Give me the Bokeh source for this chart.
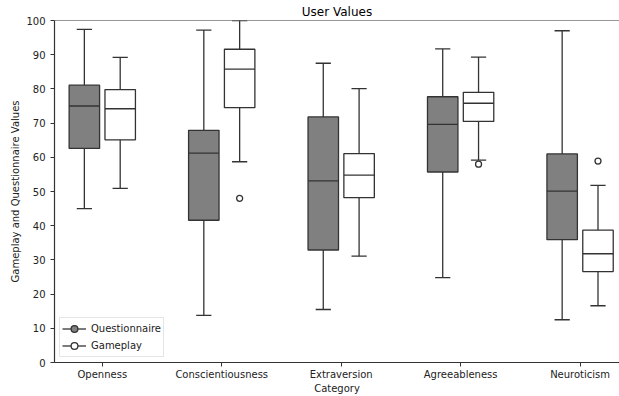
from bokeh.plotting import figure
from bokeh.models import (ColumnDataSource, Range1d, FixedTicker, Span, Legend, LegendItem)
from bokeh.embed import file_html
from bokeh.resources import INLINE

categories = ["Openness", "Conscientiousness", "Extraversion", "Agreeableness", "Neuroticism"]

# Questionnaire: lower whisker, Q1, median, Q3, upper whisker
q_low = [45.0, 13.8, 15.5, 24.8, 12.5]
q_q1 = [62.6, 41.6, 32.9, 55.7, 35.9]
q_med = [75.0, 61.2, 53.1, 69.6, 50.1]
q_q3 = [81.1, 67.9, 71.8, 77.7, 61.0]
q_high = [97.4, 97.2, 87.5, 91.7, 97.0]

# Gameplay
g_low = [50.9, 58.7, 31.1, 59.2, 16.6]
g_q1 = [65.1, 74.5, 48.2, 70.5, 26.6]
g_med = [74.2, 85.8, 54.8, 75.8, 31.8]
g_q3 = [79.8, 91.6, 61.1, 79.0, 38.7]
g_high = [89.2, 100.0, 80.1, 89.3, 51.8]

# Gameplay outliers (category index, value)
g_out_cat = [1, 3, 4]
g_out_val = [48.0, 58.0, 58.9]

EDGE = "#333333"
LW = 1.3
OFFSET = 0.15
BW = 0.255
NAN = float("nan")

p = figure(width=619, height=396, output_backend="svg", toolbar_location=None,
           x_range=Range1d(-0.40, 4.33), y_range=Range1d(0, 100),
           min_border_left=54, min_border_right=0, min_border_top=20, min_border_bottom=34,
           title="User Values")
p.title.align = "center"
p.title.offset = 3
p.title.text_font = "DejaVu Sans"
p.title.text_font_size = "12px"
p.title.text_font_style = "normal"
p.title.text_color = "#000000"
p.title.standoff = 3
p.outline_line_color = None
p.grid.visible = False
p.background_fill_color = "white"
p.border_fill_color = "white"


def draw(low, q1, med, q3, high, shift, fill):
    xs = [i + shift for i in range(len(categories))]
    src = ColumnDataSource(dict(x=xs, low=low, q1=q1, med=med, q3=q3, high=high,
                                cl=[x - BW / 4 for x in xs], cr=[x + BW / 4 for x in xs],
                                bl=[x - BW / 2 for x in xs], br=[x + BW / 2 for x in xs]))
    p.segment(x0="x", y0="q3", x1="x", y1="high", source=src, line_color=EDGE, line_width=LW)
    p.segment(x0="x", y0="low", x1="x", y1="q1", source=src, line_color=EDGE, line_width=LW)
    p.segment(x0="cl", y0="high", x1="cr", y1="high", source=src, line_color=EDGE, line_width=LW)
    p.segment(x0="cl", y0="low", x1="cr", y1="low", source=src, line_color=EDGE, line_width=LW)
    p.vbar(x="x", width=BW, bottom="q1", top="q3", source=src, fill_color=fill,
           line_color=EDGE, line_width=LW)
    p.segment(x0="bl", y0="med", x1="br", y1="med", source=src, line_color=EDGE, line_width=LW)


draw(q_low, q_q1, q_med, q_q3, q_high, -OFFSET, "#808080")
draw(g_low, g_q1, g_med, g_q3, g_high, OFFSET, "#ffffff")

p.scatter(x=[c + OFFSET for c in g_out_cat], y=g_out_val, size=6, marker="circle",
          fill_color="white", line_color=EDGE, line_width=LW)

p.add_layout(Span(location=100, dimension="width", line_color=EDGE, line_width=1.2))

# axes
p.xaxis.ticker = FixedTicker(ticks=list(range(len(categories))))
p.xaxis.major_label_overrides = {i: c for i, c in enumerate(categories)}
p.yaxis.ticker = FixedTicker(ticks=list(range(0, 101, 10)))
for ax in (p.xaxis[0], p.yaxis[0]):
    ax.axis_line_color = EDGE
    ax.axis_line_width = 1.2
    ax.major_tick_line_color = EDGE
    ax.major_tick_out = 4
    ax.major_tick_in = 0
    ax.minor_tick_line_color = None
    ax.major_label_text_font = "DejaVu Sans"
    ax.major_label_text_font_size = "10px"
    ax.major_label_text_color = "#222222"
    ax.axis_label_text_font = "DejaVu Sans"
    ax.axis_label_text_font_size = "10px"
    ax.axis_label_text_font_style = "normal"
    ax.axis_label_text_color = "#222222"
p.xaxis.axis_label = "Category"
p.yaxis.axis_label = "Gameplay and Questionnaire Values"
p.xaxis.major_label_standoff = 2
p.xaxis.axis_label_standoff = 0
p.yaxis.major_label_standoff = 5
p.yaxis.axis_label_standoff = 2

# legend
lq = p.line(x=[NAN], y=[NAN], line_color=EDGE, line_width=LW)
cq = p.scatter(x=[NAN], y=[NAN], size=10, fill_color="#808080", line_color=EDGE, line_width=LW)
lg = p.line(x=[NAN], y=[NAN], line_color=EDGE, line_width=LW)
cg = p.scatter(x=[NAN], y=[NAN], size=10, fill_color="white", line_color=EDGE, line_width=LW)
legend = Legend(items=[LegendItem(label="Questionnaire", renderers=[lq, cq]),
                       LegendItem(label="Gameplay", renderers=[lg, cg])],
                location="bottom_left")
legend.margin = 5
legend.padding = 2
legend.spacing = 0
legend.glyph_width = 24
legend.glyph_height = 17
legend.label_height = 13
legend.label_standoff = 5
legend.label_text_font = "DejaVu Sans"
legend.label_text_font_size = "10px"
legend.label_text_color = "#222222"
legend.border_line_color = "#cccccc"
legend.border_line_width = 1
legend.background_fill_alpha = 0.8
p.add_layout(legend)

open("out.html", "w").write(file_html(p, INLINE))
